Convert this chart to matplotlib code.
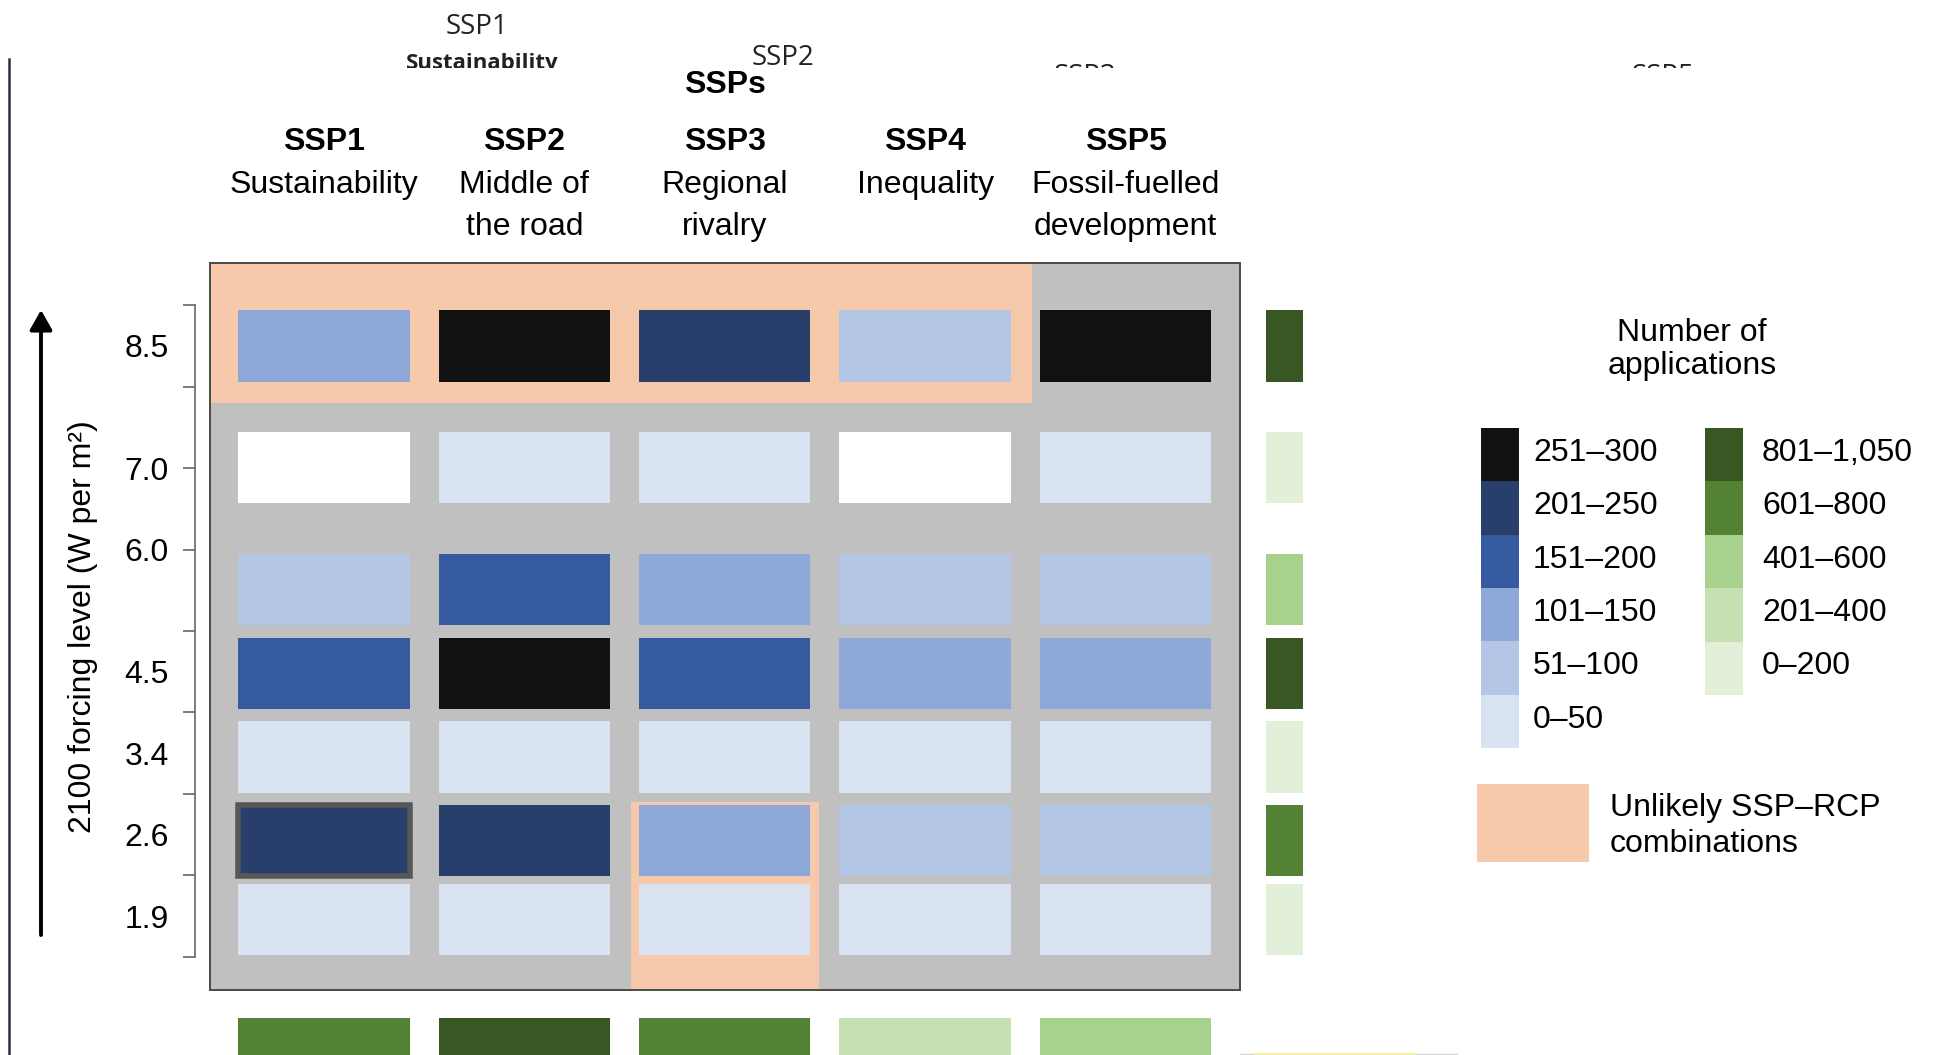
import matplotlib
matplotlib.use("Agg")
import numpy as np
import matplotlib.pyplot as plt
import matplotlib.transforms as mtransforms
from matplotlib.patches import Rectangle, FancyArrowPatch
from matplotlib.lines import Line2D

W, H, DPI = 1946, 1055, 100
plt.rcParams['font.family'] = ['Liberation Sans', 'DejaVu Sans']

# ---------------- data ----------------
ssp_codes = ["SSP1", "SSP2", "SSP3", "SSP4", "SSP5"]
ssp_names = [["Sustainability"], ["Middle of", "the road"], ["Regional", "rivalry"],
             ["Inequality"], ["Fossil-fuelled", "development"]]
forcing_levels = ["8.5", "7.0", "6.0", "4.5", "3.4", "2.6", "1.9"]

cell_bin_labels = ["0\u201350", "51\u2013100", "101\u2013150", "151\u2013200", "201\u2013250", "251\u2013300"]
total_bin_labels = ["0\u2013200", "201\u2013400", "401\u2013600", "601\u2013800", "801\u20131,050"]

# number-of-applications class for each SSP at each forcing level (-1: none)
apps_85 = [2, 5, 4, 1, 5]
apps_70 = [-1, 0, 0, -1, 0]
apps_60 = [1, 3, 2, 1, 1]
apps_45 = [3, 5, 3, 2, 2]
apps_34 = [0, 0, 0, 0, 0]
apps_26 = [4, 4, 2, 1, 1]
apps_19 = [0, 0, 0, 0, 0]
apps_by_level = [apps_85, apps_70, apps_60, apps_45, apps_34, apps_26, apps_19]

# totals class per forcing level and per SSP
level_totals = [4, 0, 2, 4, 0, 3, 0]
ssp_totals = [3, 4, 3, 1, 2]

# unlikely SSP-RCP combinations
unlikely_in_level = {"8.5": ["SSP1", "SSP2", "SSP3", "SSP4"]}
unlikely_in_ssp = {"SSP3": ["2.6", "1.9"]}
highlighted = ("2.6", "SSP1")

# ---------------- style ----------------
blue_colors = ["#d9e2f1", "#b4c6e5", "#8ea9d9", "#365a9f", "#283e6b", "#111111"]
green_colors = ["#e2efd9", "#c6e0b4", "#a9d18e", "#548235", "#385723"]
no_data_color = "#ffffff"
grid_bg = "#bfc0bf"
unlikely_color = "#f5c9aa"

row_pos = [7.5, 6.01, 4.51, 3.48, 2.45, 1.43, 0.455]
label_pos = [7.5, 6.0, 5.0, 3.5, 2.5, 1.5, 0.5]
cell_w, cell_h = 0.855, 0.878
XLIM = (-0.57, 4.57)
YLIM = (-0.408, 8.519)
FS = 23


def fig_rect(x0, y0, x1, y1):
    return [x0 / W, 1 - y1 / H, (x1 - x0) / W, (y1 - y0) / H]


fig = plt.figure(figsize=(W / DPI, H / DPI), dpi=DPI, facecolor="white")

# ---------------- heatmap ----------------
ax = fig.add_axes(fig_rect(209.7, 263, 1239.8, 990))
ax.set_xlim(*XLIM)
ax.set_ylim(*YLIM)
ax.set_facecolor(grid_bg)
ax.set_xticks([])
ax.set_yticks([])
for sp in ax.spines.values():
    sp.set_color("#4a4a4a")
    sp.set_linewidth(1.4)

cols = np.arange(len(ssp_codes))

# unlikely combinations shading
for level, ssps in unlikely_in_level.items():
    r = forcing_levels.index(level)
    last = max(ssp_codes.index(s) for s in ssps)
    y0 = row_pos[r] - cell_h / 2 - 0.265
    ax.add_patch(Rectangle((XLIM[0], y0), last + 0.535 - XLIM[0], YLIM[1] - y0,
                           facecolor=unlikely_color, edgecolor="none", zorder=1))
for ssp, levels in unlikely_in_ssp.items():
    c = ssp_codes.index(ssp)
    top = min(forcing_levels.index(l) for l in levels)
    y1 = row_pos[top] + cell_h / 2 + 0.036
    ax.add_patch(Rectangle((c - 0.47, YLIM[0]), 0.94, y1 - YLIM[0],
                           facecolor=unlikely_color, edgecolor="none", zorder=1))

for r, vals in enumerate(apps_by_level):
    colors = [blue_colors[v] if v >= 0 else no_data_color for v in vals]
    ax.bar(cols, cell_h, width=cell_w, bottom=row_pos[r] - cell_h / 2,
           color=colors, edgecolor="none", zorder=2)

hr = forcing_levels.index(highlighted[0])
hc = ssp_codes.index(highlighted[1])
ax.add_patch(Rectangle((hc - cell_w / 2, row_pos[hr] - cell_h / 2), cell_w, cell_h,
                       fill=False, edgecolor="#575757", linewidth=4, zorder=3))

# column headers
hdr = mtransforms.blended_transform_factory(ax.transData, fig.transFigure)
for c, (code, name) in enumerate(zip(ssp_codes, ssp_names)):
    ax.text(c, 1 - 150 / H, code, transform=hdr, ha="center", va="baseline",
            fontsize=FS, fontweight="bold")
    for k, line in enumerate(name):
        ax.text(c, 1 - (192.7 + 42.3 * k) / H, line, transform=hdr,
                ha="center", va="baseline", fontsize=FS)

# ---------------- forcing axis ----------------
ax_y = fig.add_axes(fig_rect(209.7, 263, 1239.8, 990))
ax_y.set_ylim(*YLIM)
ax_y.set_xlim(*XLIM)
ax_y.patch.set_visible(False)
for side in ["top", "right", "bottom"]:
    ax_y.spines[side].set_visible(False)
ax_y.spines["left"].set_position(("outward", 10.6))
ax_y.spines["left"].set_bounds(0, 8)
ax_y.spines["left"].set_color("#666666")
ax_y.spines["left"].set_linewidth(1.2)
ax_y.set_xticks([])
ax_y.yaxis.remove_overlapping_locs = False
ax_y.set_yticks(np.arange(9))
ax_y.set_yticklabels([])
ax_y.set_yticks(label_pos, minor=True)
ax_y.set_yticklabels(forcing_levels, minor=True)
ax_y.tick_params(axis="y", which="major", length=9, width=1.2, color="#666666")
ax_y.tick_params(axis="y", which="minor", length=0, pad=18.8, labelsize=FS)

fig.text(83 / W, 1 - 627 / H, "2100 forcing level (W per m\u00b2)", rotation=90,
         ha="center", va="center", fontsize=FS)
fig.add_artist(FancyArrowPatch((41 / W, 1 - 935 / H), (41 / W, 1 - 310 / H),
                               transform=fig.transFigure,
                               arrowstyle="-|>,head_length=12,head_width=6.8",
                               mutation_scale=1, lw=2.8, color="black",
                               shrinkA=0, shrinkB=0))

# ---------------- totals ----------------
ax_row = fig.add_axes(fig_rect(1266, 263, 1303, 990))
ax_row.set_ylim(*YLIM)
ax_row.set_xlim(0, 1)
ax_row.barh(row_pos, 1, height=cell_h, left=0,
            color=[green_colors[v] for v in level_totals], edgecolor="none")
ax_row.set_axis_off()

ax_col = fig.add_axes(fig_rect(209.7, 1017.6, 1239.8, 1089))
ax_col.set_xlim(*XLIM)
ax_col.set_ylim(0, 1)
ax_col.bar(cols, 1, width=cell_w, bottom=0,
           color=[green_colors[v] for v in ssp_totals], edgecolor="none")
ax_col.set_axis_off()

# ---------------- legend ----------------
fig.text(1692 / W, 1 - 341.3 / H, "Number of", ha="center", va="baseline", fontsize=FS)
fig.text(1692 / W, 1 - 374.5 / H, "applications", ha="center", va="baseline", fontsize=FS)

ax_lb = fig.add_axes(fig_rect(1481, 428, 1519, 748))
ax_lb.bar(np.zeros(len(blue_colors)), 1, width=1, bottom=np.arange(len(blue_colors)),
          color=blue_colors, edgecolor="none")
ax_lg = fig.add_axes(fig_rect(1704.5, 428, 1742.5, 695))
ax_lg.bar(np.zeros(len(green_colors)), 1, width=1, bottom=np.arange(len(green_colors)),
          color=green_colors, edgecolor="none")
for a, labels, pad in [(ax_lb, cell_bin_labels, 10), (ax_lg, total_bin_labels, 14)]:
    a.set_xlim(-0.5, 0.5)
    a.set_ylim(0, len(labels))
    for sp in a.spines.values():
        sp.set_visible(False)
    a.set_xticks([])
    a.yaxis.tick_right()
    a.set_yticks(np.arange(len(labels)) + 0.6)
    a.set_yticklabels(labels)
    a.tick_params(axis="y", length=0, pad=pad, labelsize=FS)

fig.patches.append(Rectangle((1477 / W, 1 - 862 / H), 112 / W, 78 / H,
                             transform=fig.transFigure, facecolor=unlikely_color,
                             edgecolor="none"))
fig.text(1609.5 / W, 1 - 816.4 / H, "Unlikely SSP\u2013RCP", ha="left", va="baseline", fontsize=FS)
fig.text(1609.5 / W, 1 - 851.7 / H, "combinations", ha="left", va="baseline", fontsize=FS)

# ---------------- page furniture ----------------
ax_top = fig.add_axes([0, 1 - 68 / H, 1, 68 / H])
ax_top.set_xlim(0, W)
ax_top.set_ylim(68, 0)
ax_top.set_axis_off()
ghost = dict(family=["Open Sans", "DejaVu Sans"], ha="center", va="baseline",
             clip_on=True, color="#222222")
ax_top.text(477, 34.3, "SSP1", fontsize=20, **ghost)
ax_top.text(482, 69.5, "Sustainability", fontsize=16, fontweight="bold", **ghost)
ax_top.text(783, 65, "SSP2", fontsize=20, **ghost)
ax_top.text(1085, 84, "SSP3", fontsize=20, **ghost)
ax_top.text(1663, 84, "SSP5", fontsize=20, **ghost)

fig.text(725 / W, 1 - 93 / H, "SSPs", ha="center", va="baseline",
         fontsize=FS, fontweight="bold")

fig.add_artist(Line2D([8.8 / W, 8.8 / W], [1 - 59 / H, 0], transform=fig.transFigure,
                      color="#2c2b42", lw=1.8))
fig.add_artist(Line2D([1240 / W, 1457 / W], [1.2 / H, 1.2 / H], transform=fig.transFigure,
                      color="#d4d4d4", lw=1.0))
fig.add_artist(Line2D([1255 / W, 1415 / W], [1.2 / H, 1.2 / H], transform=fig.transFigure,
                      color="#f4efa0", lw=1.4))

fig.savefig("out.png", dpi=DPI, facecolor="white")
